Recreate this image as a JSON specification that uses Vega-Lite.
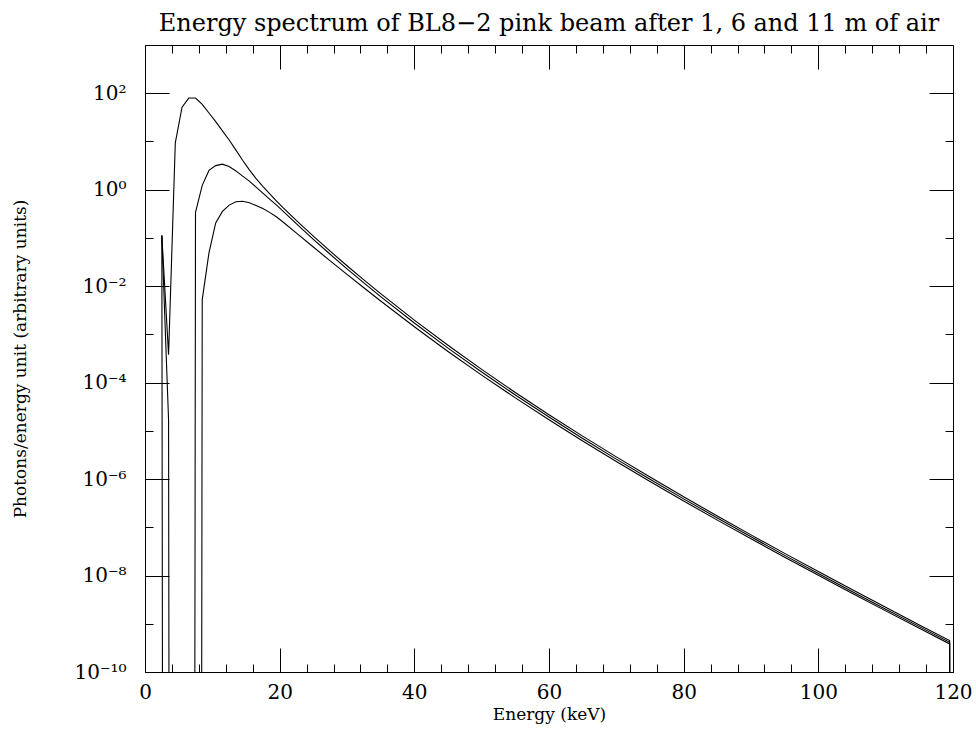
{
  "$schema": "https://vega.github.io/schema/vega-lite/v6.json",
  "width": 808,
  "height": 627,
  "autosize": "none",
  "padding": {"left": 145, "top": 45, "right": 23, "bottom": 57},
  "background": "white",
  "title": {
    "text": "Energy spectrum of BL8−2 pink beam after 1, 6 and 11 m of air",
    "font": "DejaVu Serif",
    "fontSize": 24,
    "fontWeight": "normal",
    "color": "black",
    "anchor": "middle",
    "offset": 9
  },
  "config": {
    "view": {"stroke": "black", "strokeWidth": 1},
    "axis": {
      "domain": false,
      "grid": false,
      "tickColor": "black",
      "tickWidth": 1,
      "labelColor": "black",
      "titleColor": "black",
      "labelFont": "DejaVu Serif",
      "titleFont": "DejaVu Serif",
      "titleFontWeight": "normal",
      "labelFlush": false,
      "labelOverlap": false,
      "labelBound": false
    }
  },
  "data": {
    "values": [
      {"air": "1 m", "E": 2.5, "f": 0.112},
      {"air": "1 m", "E": 3.5, "f": 3.8e-4},
      {"air": "1 m", "E": 4.5, "f": 9.33},
      {"air": "1 m", "E": 5.5, "f": 51.3},
      {"air": "1 m", "E": 6.5, "f": 79.4},
      {"air": "1 m", "E": 7.5, "f": 79.4},
      {"air": "1 m", "E": 8.5, "f": 58.9},
      {"air": "1 m", "E": 9.5, "f": 38.9},
      {"air": "1 m", "E": 10.5, "f": 25.7},
      {"air": "1 m", "E": 11.5, "f": 16.6},
      {"air": "1 m", "E": 12.5, "f": 10.7},
      {"air": "1 m", "E": 13.5, "f": 6.61},
      {"air": "1 m", "E": 14.5, "f": 4.07},
      {"air": "1 m", "E": 15.5, "f": 2.57},
      {"air": "1 m", "E": 16.5, "f": 1.70},
      {"air": "1 m", "E": 17.5, "f": 1.17},
      {"air": "1 m", "E": 18.5, "f": 0.832},
      {"air": "1 m", "E": 19.5, "f": 0.589},
      {"air": "1 m", "E": 20.5, "f": 0.423},
      {"air": "1 m", "E": 22.5, "f": 0.229},
      {"air": "1 m", "E": 25, "f": 0.109},
      {"air": "1 m", "E": 27.5, "f": 0.0531},
      {"air": "1 m", "E": 30, "f": 0.0265},
      {"air": "1 m", "E": 32.5, "f": 0.0135},
      {"air": "1 m", "E": 35, "f": 6.98e-3},
      {"air": "1 m", "E": 40, "f": 1.97e-3},
      {"air": "1 m", "E": 45, "f": 5.94e-4},
      {"air": "1 m", "E": 50, "f": 1.88e-4},
      {"air": "1 m", "E": 55, "f": 6.24e-5},
      {"air": "1 m", "E": 60, "f": 2.16e-5},
      {"air": "1 m", "E": 65, "f": 7.76e-6},
      {"air": "1 m", "E": 70, "f": 2.89e-6},
      {"air": "1 m", "E": 75, "f": 1.10e-6},
      {"air": "1 m", "E": 80, "f": 4.31e-7},
      {"air": "1 m", "E": 85, "f": 1.71e-7},
      {"air": "1 m", "E": 90, "f": 6.97e-8},
      {"air": "1 m", "E": 95, "f": 2.88e-8},
      {"air": "1 m", "E": 100, "f": 1.21e-8},
      {"air": "1 m", "E": 105, "f": 5.11e-9},
      {"air": "1 m", "E": 110, "f": 2.19e-9},
      {"air": "1 m", "E": 115, "f": 9.46e-10},
      {"air": "1 m", "E": 119.5, "f": 4.49e-10},
      {"air": "1 m", "E": 120.5, "f": 1e-100},

      {"air": "6 m", "E": 2.5, "f": 0.112},
      {"air": "6 m", "E": 3.5, "f": 1.70e-5},
      {"air": "6 m", "E": 4.5, "f": 1e-100},
      {"air": "6 m", "E": 5.5, "f": 1e-100},
      {"air": "6 m", "E": 6.5, "f": 1e-100},
      {"air": "6 m", "E": 7.5, "f": 0.339},
      {"air": "6 m", "E": 8.5, "f": 1.23},
      {"air": "6 m", "E": 9.5, "f": 2.51},
      {"air": "6 m", "E": 10.5, "f": 3.16},
      {"air": "6 m", "E": 11.5, "f": 3.39},
      {"air": "6 m", "E": 12.5, "f": 3.02},
      {"air": "6 m", "E": 13.5, "f": 2.45},
      {"air": "6 m", "E": 14.5, "f": 1.91},
      {"air": "6 m", "E": 15.5, "f": 1.51},
      {"air": "6 m", "E": 16.5, "f": 1.135},
      {"air": "6 m", "E": 17.5, "f": 0.851},
      {"air": "6 m", "E": 18.5, "f": 0.638},
      {"air": "6 m", "E": 19.5, "f": 0.484},
      {"air": "6 m", "E": 20.5, "f": 0.360},
      {"air": "6 m", "E": 22.5, "f": 0.196},
      {"air": "6 m", "E": 25, "f": 0.0935},
      {"air": "6 m", "E": 27.5, "f": 0.0458},
      {"air": "6 m", "E": 30, "f": 0.0229},
      {"air": "6 m", "E": 32.5, "f": 0.01166},
      {"air": "6 m", "E": 35, "f": 6.05e-3},
      {"air": "6 m", "E": 40, "f": 1.72e-3},
      {"air": "6 m", "E": 45, "f": 5.20e-4},
      {"air": "6 m", "E": 50, "f": 1.66e-4},
      {"air": "6 m", "E": 55, "f": 5.53e-5},
      {"air": "6 m", "E": 60, "f": 1.93e-5},
      {"air": "6 m", "E": 65, "f": 6.95e-6},
      {"air": "6 m", "E": 70, "f": 2.59e-6},
      {"air": "6 m", "E": 75, "f": 9.91e-7},
      {"air": "6 m", "E": 80, "f": 3.89e-7},
      {"air": "6 m", "E": 85, "f": 1.56e-7},
      {"air": "6 m", "E": 90, "f": 6.34e-8},
      {"air": "6 m", "E": 95, "f": 2.62e-8},
      {"air": "6 m", "E": 100, "f": 1.10e-8},
      {"air": "6 m", "E": 105, "f": 4.69e-9},
      {"air": "6 m", "E": 110, "f": 2.01e-9},
      {"air": "6 m", "E": 115, "f": 8.73e-10},
      {"air": "6 m", "E": 119.5, "f": 4.14e-10},
      {"air": "6 m", "E": 120.5, "f": 1e-100},

      {"air": "11 m", "E": 2.5, "f": 0.112},
      {"air": "11 m", "E": 3.5, "f": 1e-100},
      {"air": "11 m", "E": 4.5, "f": 1e-100},
      {"air": "11 m", "E": 5.5, "f": 1e-100},
      {"air": "11 m", "E": 6.5, "f": 1e-100},
      {"air": "11 m", "E": 7.5, "f": 1e-100},
      {"air": "11 m", "E": 8.5, "f": 5.25e-3},
      {"air": "11 m", "E": 9.5, "f": 0.0490},
      {"air": "11 m", "E": 10.5, "f": 0.204},
      {"air": "11 m", "E": 11.5, "f": 0.355},
      {"air": "11 m", "E": 12.5, "f": 0.479},
      {"air": "11 m", "E": 13.5, "f": 0.562},
      {"air": "11 m", "E": 14.5, "f": 0.575},
      {"air": "11 m", "E": 15.5, "f": 0.537},
      {"air": "11 m", "E": 16.5, "f": 0.468},
      {"air": "11 m", "E": 17.5, "f": 0.407},
      {"air": "11 m", "E": 18.5, "f": 0.339},
      {"air": "11 m", "E": 19.5, "f": 0.275},
      {"air": "11 m", "E": 20.5, "f": 0.214},
      {"air": "11 m", "E": 22.5, "f": 0.126},
      {"air": "11 m", "E": 25, "f": 0.0647},
      {"air": "11 m", "E": 27.5, "f": 0.0335},
      {"air": "11 m", "E": 30, "f": 0.0175},
      {"air": "11 m", "E": 32.5, "f": 9.25e-3},
      {"air": "11 m", "E": 35, "f": 4.92e-3},
      {"air": "11 m", "E": 40, "f": 1.44e-3},
      {"air": "11 m", "E": 45, "f": 4.43e-4},
      {"air": "11 m", "E": 50, "f": 1.43e-4},
      {"air": "11 m", "E": 55, "f": 4.83e-5},
      {"air": "11 m", "E": 60, "f": 1.70e-5},
      {"air": "11 m", "E": 65, "f": 6.17e-6},
      {"air": "11 m", "E": 70, "f": 2.32e-6},
      {"air": "11 m", "E": 75, "f": 8.89e-7},
      {"air": "11 m", "E": 80, "f": 3.51e-7},
      {"air": "11 m", "E": 85, "f": 1.41e-7},
      {"air": "11 m", "E": 90, "f": 5.77e-8},
      {"air": "11 m", "E": 95, "f": 2.40e-8},
      {"air": "11 m", "E": 100, "f": 1.01e-8},
      {"air": "11 m", "E": 105, "f": 4.31e-9},
      {"air": "11 m", "E": 110, "f": 1.85e-9},
      {"air": "11 m", "E": 115, "f": 8.05e-10},
      {"air": "11 m", "E": 119.5, "f": 3.82e-10},
      {"air": "11 m", "E": 120.5, "f": 1e-100}
    ]
  },
  "layer": [
    {
      "mark": {"type": "line", "color": "black", "strokeWidth": 1.1, "clip": true},
      "encoding": {
        "x": {
          "field": "E", "type": "quantitative",
          "scale": {"domain": [0, 120], "nice": false, "zero": false},
          "axis": {
            "orient": "bottom",
            "values": [0, 20, 40, 60, 80, 100, 120],
            "ticks": false,
            "labelPadding": 10,
            "labelFontSize": 20,
            "title": "Energy (keV)",
            "titleFontSize": 17,
            "titlePadding": 4
          }
        },
        "y": {
          "field": "f", "type": "quantitative",
          "scale": {"type": "log", "domain": [1e-10, 1000], "nice": false},
          "axis": {
            "orient": "left",
            "values": [1e-10, 1e-8, 1e-6, 1e-4, 0.01, 1, 100],
            "ticks": false,
            "labelPadding": 19,
            "labelFontSize": 20,
            "labelBaseline": "middle",
            "labelExpr": "'10' + replace(replace(replace(replace(replace(replace(replace('' + round(log(datum.value) / LN10), '-', '⁻'), '0', '⁰'), '1', '¹'), '2', '²'), '4', '⁴'), '6', '⁶'), '8', '⁸')",
            "title": "Photons/energy unit (arbitrary units)",
            "titleFontSize": 17,
            "titlePadding": 44
          }
        },
        "detail": {"field": "air", "type": "nominal"}
      }
    },
    {
      "mark": {"type": "point", "opacity": 0, "clip": true},
      "encoding": {
        "x": {"field": "E", "type": "quantitative",
          "axis": {"orient": "bottom", "values": [0, 20, 40, 60, 80, 100, 120], "tickSize": -24, "labels": false, "title": null}},
        "y": {"field": "f", "type": "quantitative",
          "axis": {"orient": "left", "values": [1e-10, 1e-8, 1e-6, 1e-4, 0.01, 1, 100], "tickSize": -24, "labels": false, "title": null}}
      }
    },
    {
      "mark": {"type": "point", "opacity": 0, "clip": true},
      "encoding": {
        "x": {"field": "E", "type": "quantitative",
          "axis": {"orient": "bottom", "values": [4, 8, 12, 16, 24, 28, 32, 36, 44, 48, 52, 56, 64, 68, 72, 76, 84, 88, 92, 96, 104, 108, 112, 116], "tickSize": -8, "labels": false, "title": null}},
        "y": {"field": "f", "type": "quantitative",
          "axis": {"orient": "left", "values": [1e-9, 1e-7, 1e-5, 0.001, 0.1, 10], "tickSize": -8, "labels": false, "title": null}}
      }
    },
    {
      "mark": {"type": "point", "opacity": 0, "clip": true},
      "encoding": {
        "x": {"field": "E", "type": "quantitative",
          "axis": {"orient": "top", "values": [0, 20, 40, 60, 80, 100, 120], "tickSize": -24, "labels": false, "title": null}},
        "y": {"field": "f", "type": "quantitative",
          "axis": {"orient": "right", "values": [1e-10, 1e-8, 1e-6, 1e-4, 0.01, 1, 100], "tickSize": -24, "labels": false, "title": null}}
      }
    },
    {
      "mark": {"type": "point", "opacity": 0, "clip": true},
      "encoding": {
        "x": {"field": "E", "type": "quantitative",
          "axis": {"orient": "top", "values": [4, 8, 12, 16, 24, 28, 32, 36, 44, 48, 52, 56, 64, 68, 72, 76, 84, 88, 92, 96, 104, 108, 112, 116], "tickSize": -8, "labels": false, "title": null}},
        "y": {"field": "f", "type": "quantitative",
          "axis": {"orient": "right", "values": [1e-9, 1e-7, 1e-5, 0.001, 0.1, 10], "tickSize": -8, "labels": false, "title": null}}
      }
    }
  ],
  "resolve": {"axis": {"x": "independent", "y": "independent"}}
}
